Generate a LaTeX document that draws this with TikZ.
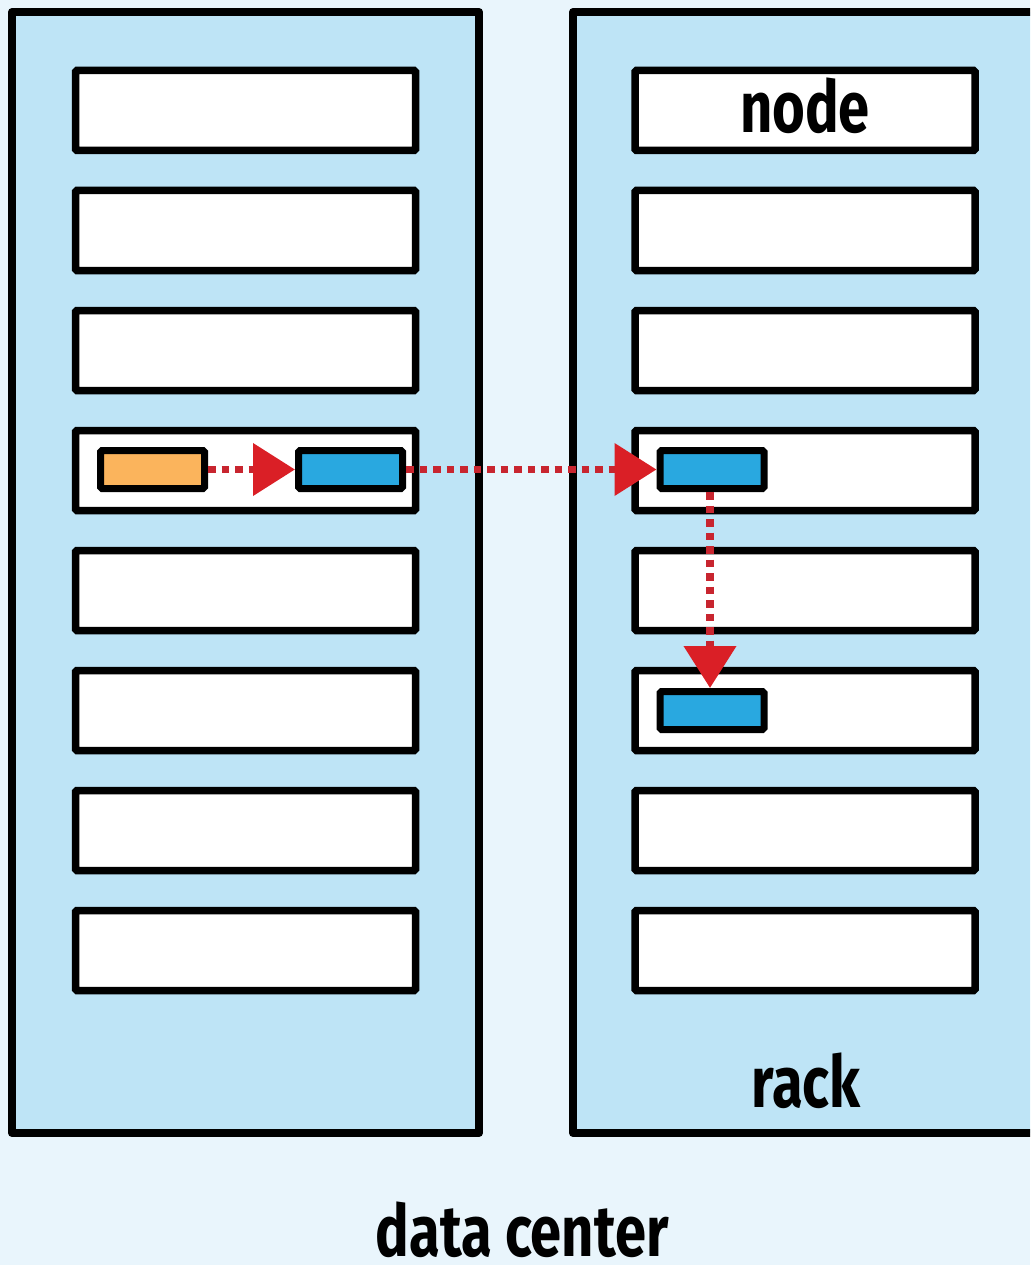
\documentclass[tikz,border=0pt]{standalone}
\usepackage{fontspec}
\usetikzlibrary{arrows.meta}
\newfontfamily\labelfont[FakeStretch=0.78]{Fira Sans}
\definecolor{bgblue}{HTML}{E9F5FC}
\definecolor{rackblue}{HTML}{BEE4F6}
\definecolor{orangefill}{HTML}{FBB45C}
\definecolor{bluefill}{HTML}{29A8E0}
\definecolor{dotred}{HTML}{C8252F}
\definecolor{headred}{HTML}{DA1F26}
\tikzset{
  rackbox/.style={draw=black, fill=rackblue, line width=8pt, minimum width=467pt, minimum height=1121pt, inner sep=0pt, line join=round},
  nodebox/.style={draw=black, fill=white, line width=7.5pt, minimum width=340pt, minimum height=80pt, inner sep=0pt, rounded corners=1.5pt},
  task/.style={draw=black, line width=7pt, minimum width=104pt, minimum height=38pt, inner sep=0pt, rounded corners=1.5pt},
  lbl/.style={font=\labelfont\bfseries\fontsize{72pt}{72pt}\selectfont, inner sep=0pt},
  flow/.style={draw=dotred, line width=7.5pt, dash pattern=on 7.5pt off 6pt, -{Triangle[length=42pt, width=51pt, color=headred, fill=headred]}}
}
\begin{document}
\begin{tikzpicture}[x=1pt, y=-1pt]
\useasboundingbox (0,0) rectangle (1030,1265);
\clip (0,0) rectangle (1030,1265);
\fill[bgblue] (0,0) rectangle (1030,1265);
% racks
\node[rackbox] (rackL) at (245.5,572.5) {};
\node[rackbox, minimum width=474pt] (rackR) at (810,572.5) {};
% node boxes
\foreach \i in {1,...,8} {
  \node[nodebox] (L\i) at (245.5,{110.5+120*(\i-1)}) {};
  \node[nodebox] (R\i) at (805,{110.5+120*(\i-1)}) {};
}
\node[lbl, anchor=base] (nodelbl) at (805,133) {node};
\node[lbl, anchor=base] (racklbl) at (806,1107) {rack};
\node[lbl, anchor=base] (dclbl) at (522,1256) {data center};
% tasks
\node[task, fill=orangefill] (src) at (152.5,469.5) {};
\node[task, fill=bluefill] (copyA) at (350.5,469.5) {};
\node[task, fill=bluefill] (copyB) at (712,469.5) {};
\node[task, fill=bluefill] (copyC) at (712,710.5) {};
% transfers
\draw[flow] (src.east) -- (copyA.west);
\draw[flow] (copyA.east) -- (copyB.west);
\draw[flow] ([xshift=-2pt]copyB.south) -- ([xshift=-2pt]copyC.north);
\end{tikzpicture}
\end{document}
